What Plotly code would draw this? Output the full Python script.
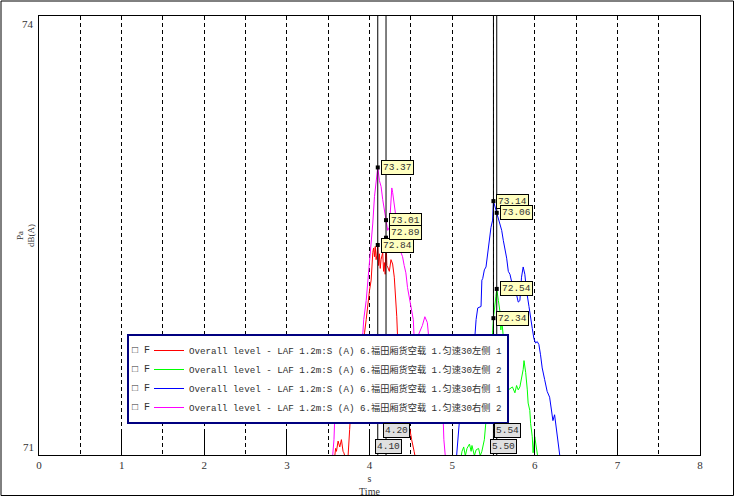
import plotly.graph_objects as go

# ---------------- data ----------------
X_RANGE = [0, 8]
Y_RANGE = [71.405, 74.405]
X_TICKS = [0, 1, 2, 3, 4, 5, 6, 7, 8]
X_TICK_LABELS = ["0", "1", "2", "3", "4", "5", "6", "7", "8"]
Y_TICK_VALUES = [71.405, 74.405]
Y_TICK_LABELS = ["71", "74"]

SERIES_NAMES = [
    "Overall level - LAF 1.2m:S (A) 6.福田厢货空载 1.匀速30左侧 1",
    "Overall level - LAF 1.2m:S (A) 6.福田厢货空载 1.匀速30左侧 2",
    "Overall level - LAF 1.2m:S (A) 6.福田厢货空载 1.匀速30右侧 1",
    "Overall level - LAF 1.2m:S (A) 6.福田厢货空载 1.匀速30右侧 2",
]
SERIES_COLORS = ["#ff0000", "#00ff00", "#0000ff", "#ff00ff"]

RED_T = [3.56, 3.59, 3.60, 3.62, 3.64, 3.66, 3.68, 3.69, 3.71, 3.74, 3.76, 3.77,
         3.81, 3.85, 3.88, 3.91, 3.93, 3.94, 3.96, 3.98, 4.00, 4.02, 4.03, 4.04,
         4.05, 4.06, 4.07, 4.08, 4.09, 4.10, 4.11, 4.12, 4.13, 4.14, 4.16, 4.17,
         4.18, 4.19, 4.20, 4.21, 4.22, 4.24, 4.26, 4.28, 4.30, 4.31, 4.32, 4.33,
         4.34, 4.36, 4.39, 4.43, 4.47, 4.49, 4.51, 4.54, 4.56]
RED_V = [71.30, 71.45, 71.43, 71.50, 71.46, 71.51, 71.43, 71.42, 71.38, 71.39, 71.58, 71.68,
         71.85, 71.99, 72.12, 72.16, 72.22, 72.24, 72.33, 72.44, 72.53, 72.60, 72.72, 72.79,
         72.82, 72.76, 72.83, 72.74, 72.77, 72.84, 72.70, 72.78, 72.68, 72.74, 72.79, 72.66,
         72.72, 72.64, 72.89, 72.70, 72.69, 72.66, 72.74, 72.71, 72.62, 72.53, 72.49, 72.35,
         72.21, 72.09, 71.92, 71.78, 71.64, 71.57, 71.51, 71.43, 71.37]

GREEN_T = [5.10, 5.12, 5.14, 5.16, 5.18, 5.21, 5.23, 5.24, 5.27, 5.29, 5.32, 5.34,
           5.36, 5.39, 5.41, 5.44, 5.47, 5.48, 5.49, 5.50, 5.53, 5.54, 5.56, 5.58,
           5.59, 5.60, 5.62, 5.63, 5.64, 5.68, 5.73, 5.76, 5.78, 5.80, 5.82, 5.84,
           5.86, 5.87, 5.89, 5.91, 5.92, 5.94, 5.95, 5.97, 5.98, 6.00, 6.01, 6.03, 6.05]
GREEN_V = [71.37, 71.43, 71.46, 71.40, 71.45, 71.48, 71.43, 71.47, 71.40, 71.44, 71.45, 71.40,
           71.43, 71.51, 71.64, 71.78, 72.05, 72.10, 72.24, 72.34, 72.49, 72.54, 72.46, 72.38,
           72.26, 72.33, 72.21, 72.14, 72.10, 71.85, 71.87, 71.83, 71.88, 71.85, 71.87, 71.92,
           71.99, 72.05, 71.97, 71.85, 71.76, 71.71, 71.62, 71.53, 71.42, 71.53, 71.49, 71.39, 71.34]

BLUE_T = [5.04, 5.07, 5.09, 5.11, 5.15, 5.16, 5.17, 5.19, 5.21, 5.23, 5.25, 5.27,
          5.29, 5.31, 5.35, 5.36, 5.37, 5.39, 5.41, 5.43, 5.45, 5.47, 5.49, 5.50,
          5.52, 5.54, 5.58, 5.60, 5.62, 5.64, 5.66, 5.68, 5.70, 5.72, 5.74, 5.76,
          5.78, 5.80, 5.82, 5.84, 5.86, 5.88, 5.90, 5.93, 5.95, 5.97, 5.99, 6.01,
          6.03, 6.05, 6.07, 6.09, 6.12, 6.15, 6.18, 6.19, 6.22, 6.24, 6.25, 6.26,
          6.28, 6.29, 6.31]
BLUE_V = [71.30, 71.51, 71.64, 71.78, 72.09, 72.14, 72.16, 72.17, 72.19, 72.19, 72.20, 72.17,
          72.33, 72.41, 72.42, 72.60, 72.61, 72.67, 72.69, 72.79, 72.85, 72.96, 73.01, 73.14,
          73.10, 73.06, 72.99, 72.94, 72.87, 72.81, 72.75, 72.66, 72.64, 72.59, 72.51, 72.53,
          72.50, 72.45, 72.46, 72.62, 72.69, 72.64, 72.53, 72.42, 72.33, 72.27, 72.20, 72.17,
          72.18, 72.16, 72.09, 72.00, 71.92, 71.84, 71.80, 71.75, 71.64, 71.68, 71.63, 71.57,
          71.51, 71.44, 71.37]

MAGENTA_T = [3.54, 3.57, 3.58, 3.62, 3.67, 3.71, 3.72, 3.74, 3.75, 3.80, 3.85, 3.87,
             3.89, 3.92, 3.93, 3.96, 3.98, 4.00, 4.02, 4.04, 4.06, 4.08, 4.09, 4.10,
             4.12, 4.14, 4.16, 4.18, 4.20, 4.22, 4.24, 4.26, 4.27, 4.28, 4.30, 4.32,
             4.34, 4.36, 4.38, 4.40, 4.42, 4.44, 4.46, 4.48, 4.50, 4.51, 4.53, 4.54,
             4.56, 4.58, 4.60, 4.64, 4.67, 4.70, 4.72, 4.75, 4.77, 4.79, 4.80, 4.83,
             4.87, 4.89, 4.90, 4.92]
MAGENTA_V = [71.30, 71.51, 71.67, 71.85, 71.95, 72.10, 72.16, 72.12, 72.05, 71.92, 71.99, 72.10,
             72.18, 72.24, 72.33, 72.46, 72.58, 72.74, 72.87, 72.99, 73.17, 73.27, 73.33, 73.37,
             73.28, 73.24, 73.15, 73.08, 73.01, 72.94, 72.96, 73.15, 73.23, 73.20, 73.13, 73.03,
             72.92, 72.83, 72.79, 72.76, 72.70, 72.65, 72.55, 72.49, 72.42, 72.38, 72.33, 72.21,
             72.18, 72.21, 72.24, 72.29, 72.35, 72.31, 72.19, 72.12, 72.21, 72.19, 72.10, 71.92,
             71.78, 71.68, 71.51, 71.38]

CURSOR_T = [4.10, 4.20, 5.50, 5.54]
READ_T = [4.10, 4.10, 4.20, 4.20, 5.50, 5.50, 5.54, 5.54]
READ_V = [73.37, 72.84, 73.01, 72.89, 73.14, 72.34, 73.06, 72.54]

# ---------------- styling ----------------
MONO = "Liberation Mono, Noto Sans CJK SC, monospace"
SERIF = "Liberation Serif, Times New Roman, serif"
DASH = "4px,3px"
L, R, T, B = 39, 35, 16, 42
W, H = 735, 497
PW, PH = W - L - R, H - T - B


def px_x(p):
    return (p - L) / PW


def px_y(p):
    return (H - B - p) / PH


fig = go.Figure()
series = [(RED_T, RED_V), (GREEN_T, GREEN_V), (BLUE_T, BLUE_V), (MAGENTA_T, MAGENTA_V)]
for (t, v), name, col in zip(series, SERIES_NAMES, SERIES_COLORS):
    fig.add_trace(go.Scatter(x=t, y=v, mode="lines", name=name,
                             line=dict(color=col, width=1)))

# cursor readout points
fig.add_trace(go.Scatter(x=READ_T, y=READ_V, mode="markers", showlegend=False,
                         marker=dict(symbol="square", size=4, color="black"),
                         hoverinfo="skip"))

# cursor handles above the plot frame
handle_y = Y_RANGE[1] + 5.5 * (Y_RANGE[1] - Y_RANGE[0]) / PH
fig.add_trace(go.Scatter(x=CURSOR_T, y=[handle_y] * len(CURSOR_T), mode="markers",
                         showlegend=False, cliponaxis=False, hoverinfo="skip",
                         marker=dict(symbol="triangle-down", size=9, color="black",
                                     line=dict(width=0))))

shapes = []
annotations = []
for c in CURSOR_T:
    shapes.append(dict(type="line", xref="x", yref="paper", x0=c, x1=c, y0=0, y1=1,
                       line=dict(color="black", width=1), layer="above"))

# cursor time labels at the bottom
for i, c in enumerate(CURSOR_T):
    annotations.append(dict(x=c, y=0, xref="x", yref="paper", text=f"{c:.2f}",
                            showarrow=False, xanchor="left", yanchor="bottom",
                            xshift=-3, yshift=1 + 16 * (i % 2),
                            bgcolor="#e0e0e0", bordercolor="black", borderwidth=1,
                            borderpad=1, font=dict(family=MONO, size=9.5, color="#303030")))

# value readouts
for t, v in zip(READ_T, READ_V):
    nudge = 5 if abs(v - 72.89) < 1e-6 else 0
    annotations.append(dict(x=t, y=v, xref="x", yref="y", text=f"{v:.2f}",
                            showarrow=False, xanchor="left", yanchor="middle",
                            xshift=3, yshift=nudge,
                            bgcolor="#ffffc0", bordercolor="black", borderwidth=1,
                            borderpad=1, font=dict(family=MONO, size=9.5, color="#303030")))

# y tick labels (only at the axis ends, drawn inside the ends)
annotations.append(dict(x=0, y=Y_TICK_VALUES[0], xref="paper", yref="y",
                        text=Y_TICK_LABELS[0], showarrow=False, xanchor="right",
                        yanchor="bottom", xshift=-3,
                        font=dict(family=SERIF, size=11, color="#333")))
annotations.append(dict(x=0, y=Y_TICK_VALUES[1], xref="paper", yref="y",
                        text=Y_TICK_LABELS[1], showarrow=False, xanchor="right",
                        yanchor="top", xshift=-3,
                        font=dict(family=SERIF, size=11, color="#333")))

# legend check boxes
LEG_TOP = 334
for i in range(len(SERIES_NAMES)):
    annotations.append(dict(x=px_x(130), y=px_y(LEG_TOP + 16.5 + 19 * i),
                            xref="paper", yref="paper", text="□ F", showarrow=False,
                            xanchor="left", yanchor="middle",
                            font=dict(family=MONO, size=10, color="#303030")))

# outer frame
shapes.append(dict(type="rect", xref="paper", yref="paper",
                   x0=px_x(1), x1=px_x(733.5), y0=px_y(495.5), y1=px_y(1),
                   line=dict(color="black", width=1), fillcolor="rgba(0,0,0,0)", layer="above"))

fig.update_layout(
    width=W, height=H,
    margin=dict(l=L, r=R, t=T, b=B, pad=0, autoexpand=False),
    paper_bgcolor="white", plot_bgcolor="white",
    showlegend=True,
    legend=dict(x=px_x(127), xanchor="left", y=px_y(LEG_TOP), yanchor="top",
                bgcolor="white", bordercolor="#000080", borderwidth=2,
                font=dict(family=MONO, size=9.2, color="#303030"),
                indentation=20, tracegroupgap=0),
    shapes=shapes,
    annotations=annotations,
    xaxis=dict(range=X_RANGE, tickvals=X_TICKS, ticktext=X_TICK_LABELS,
               ticks="inside", ticklen=23, tickcolor="black", tickwidth=1,
               showline=True, linecolor="black", linewidth=1, mirror=True,
               showgrid=True, gridcolor="black", gridwidth=1, griddash=DASH,
               minor=dict(dtick=0.5, tick0=0, showgrid=True, gridcolor="black",
                          gridwidth=1, griddash=DASH),
               zeroline=False, automargin=False,
               tickfont=dict(family=SERIF, size=11, color="#333"),
               title=dict(text="s<br>Time", standoff=4,
                          font=dict(family=SERIF, size=10, color="#333"))),
    yaxis=dict(range=Y_RANGE, showticklabels=False, ticks="",
               showline=True, linecolor="black", linewidth=1, mirror=True,
               showgrid=False, zeroline=False, automargin=False,
               title=dict(text="Pa<br>dB(A)", standoff=1,
                          font=dict(family=SERIF, size=9, color="#333"))),
)

fig.write_html("out.html")
